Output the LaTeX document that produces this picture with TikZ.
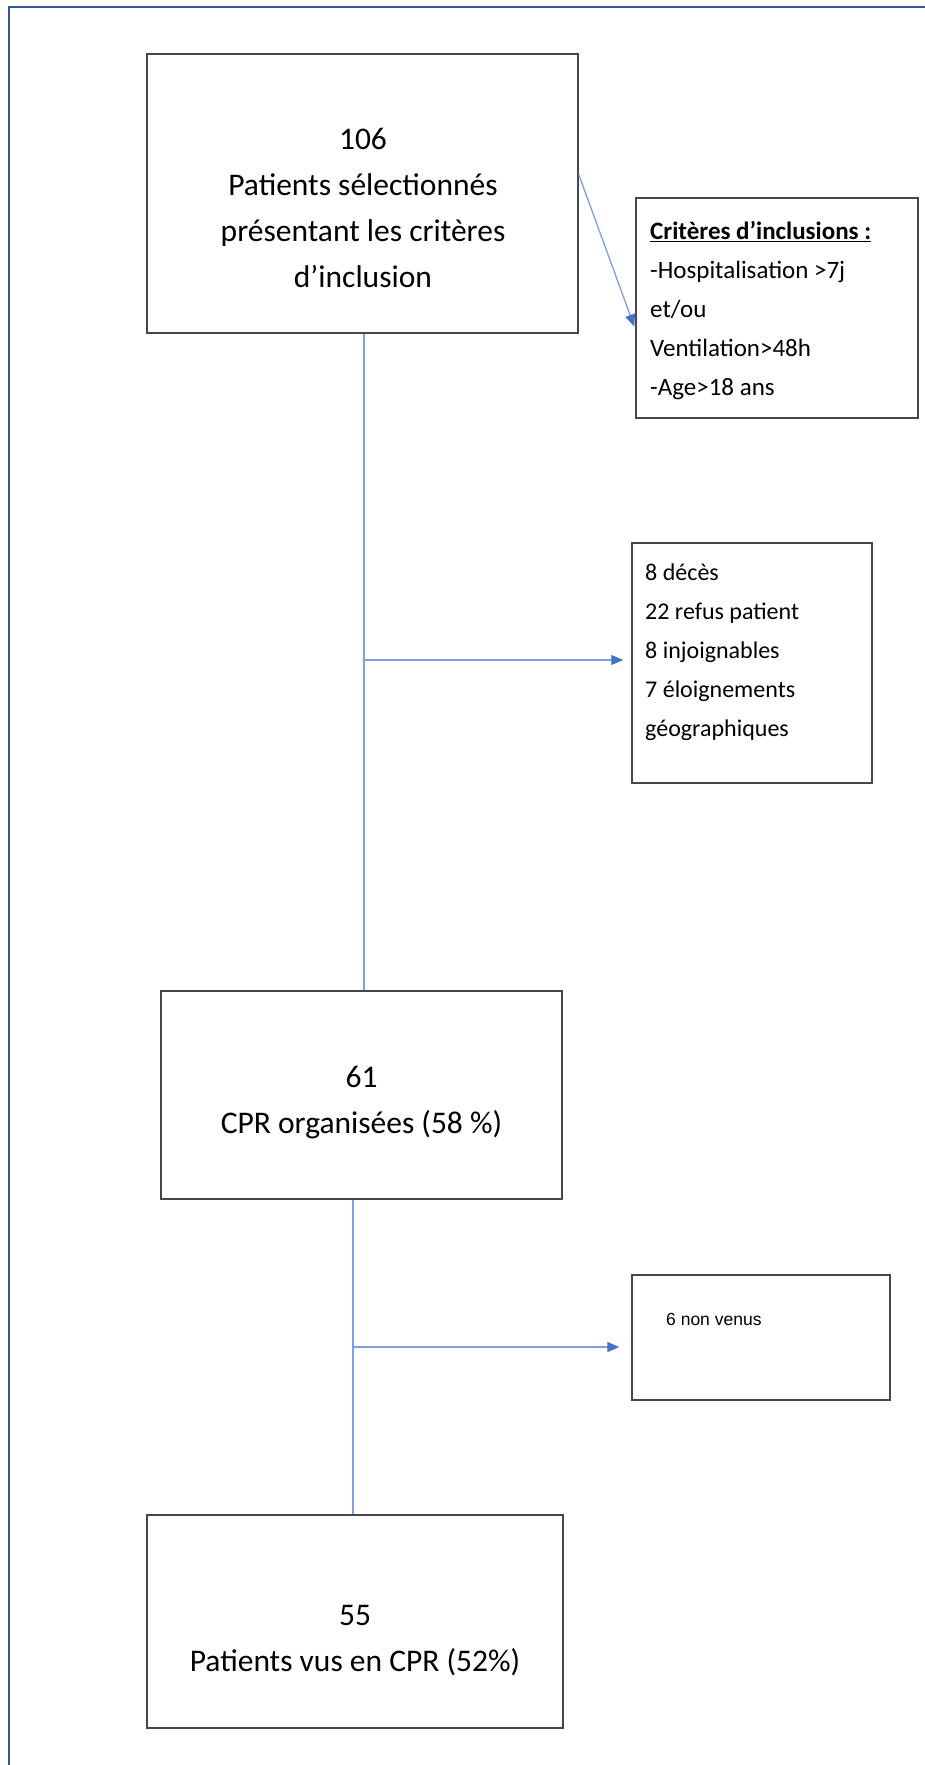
\documentclass[tikz,border=0pt]{standalone}
\usepackage{fontspec}
\setmainfont{Carlito}
\newfontfamily\arialf{Liberation Sans}
\usetikzlibrary{arrows.meta}
\definecolor{frameblue}{RGB}{47,85,151}
\definecolor{conn}{RGB}{130,158,222}
\definecolor{tipblue}{RGB}{68,114,196}
\definecolor{boxline}{RGB}{70,70,75}
\tikzset{
  box/.style={draw=boxline, line width=1.4pt, fill=white, inner sep=0pt},
  bigtxt/.style={inner sep=0pt, align=center, font=\fontsize{31.5}{46}\selectfont},
  midtxt/.style={inner sep=0pt, align=left, anchor=north west, font=\fontsize{25}{39}\selectfont},
  smtxt/.style={inner sep=0pt, align=left, anchor=north west, font=\fontsize{24}{39}\selectfont},
  conline/.style={draw=conn, line width=1.3pt},
  conarrow/.style={draw=conn, line width=1.3pt, -{Triangle[length=12pt,width=10pt,color=tipblue]}},
}
\begin{document}
\begin{tikzpicture}[x=1pt,y=-1pt]
\useasboundingbox (0,0) rectangle (925,1765);
% outer frame (cropped on right and bottom)
\draw[frameblue, line width=2.6pt] (9,1765) -- (9,7) -- (925,7);

% boxes (centre, size)
\node[box, minimum width=431pt, minimum height=279pt] (b1) at (362.5,193.5) {};
\node[box, minimum width=282pt, minimum height=220pt] (crit) at (777,308) {};
\node[box, minimum width=240pt, minimum height=240pt] (excl) at (752,663) {};
\node[box, minimum width=401pt, minimum height=208pt] (b2) at (361.5,1095) {};
\node[box, minimum width=258pt, minimum height=125pt] (nv) at (761,1337.5) {};
\node[box, minimum width=416pt, minimum height=213pt] (b3) at (355,1621.5) {};

% texts
\node[bigtxt] (t1) at (363,208) {106\\Patients sélectionnés\\présentant les critères\\d’inclusion};
\node[midtxt] (tc) at (650,221) {\textbf{\underline{Critères d’inclusions :}}\\-Hospitalisation >7j\\et/ou\\Ventilation>48h\\-Age>18 ans};
\node[smtxt] (te) at (645,564) {8 décès\\22 refus patient\\8 injoignables\\7 éloignements\\géographiques};
\node[bigtxt] (t2) at (361.5,1103) {61\\CPR organisées (58 \%)};
\node[inner sep=0pt, anchor=west, font=\arialf\fontsize{17.5}{20}\selectfont] (tn) at (666,1319) {6 non venus};
\node[bigtxt] (t3) at (355,1641) {55\\Patients vus en CPR (52\%)};

% connectors
\coordinate (v1) at (364,0);
\coordinate (j1) at (364,660);
\coordinate (v2) at (353,0);
\coordinate (j2) at (353,1347);
\draw[conline] (b1.south -| v1) -- (b2.north -| v1);
\draw[conarrow, shorten >=8pt] (j1) -- (j1 -| excl.west);
\draw[conarrow, shorten >=3pt] ([yshift=-121pt]b1.north east) -- ([yshift=-132pt]crit.north west);
\draw[conline] (b2.south -| v2) -- (b3.north -| v2);
\draw[conarrow, shorten >=12pt] (j2) -- (j2 -| nv.west);
\end{tikzpicture}
\end{document}
